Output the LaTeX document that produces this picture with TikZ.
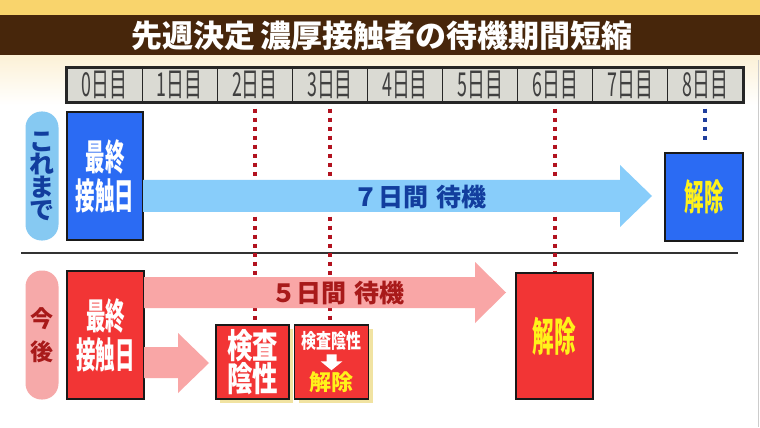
\documentclass[tikz,border=0pt]{standalone}
\usepackage{fontspec}
\setmainfont{Noto Sans CJK JP}
\newfontfamily\narrowjp{Noto Sans CJK JP}[FakeStretch=0.54]
\newfontfamily\midjp{Noto Sans CJK JP}[FakeStretch=0.75]
\usepackage{tikz}
\usetikzlibrary{positioning,shadows}

\definecolor{topyellow}{HTML}{F9D46C}
\definecolor{titlebrown}{HTML}{47260B}
\definecolor{cream}{HTML}{FCF1D6}
\definecolor{cellgray}{HTML}{DADAD3}
\definecolor{oldblue}{HTML}{2B6BF3}
\definecolor{oldpillblue}{HTML}{86C9F2}
\definecolor{oldarrowblue}{HTML}{88CDFA}
\definecolor{oldtext}{HTML}{123E9E}
\definecolor{newred}{HTML}{F23535}
\definecolor{newpillred}{HTML}{F6A9A9}
\definecolor{newarrowred}{HTML}{F9A6A6}
\definecolor{newtext}{HTML}{A81A1A}
\definecolor{dotred}{HTML}{B2121F}
\definecolor{dotblue}{HTML}{1F3E9C}
\definecolor{freeyellow}{HTML}{FFF21A}
\definecolor{shadowyellow}{HTML}{F1E3A2}

\begin{document}
\begin{tikzpicture}[x=1pt, y=-1pt,
    daycell/.style={draw=black!85, line width=1.2pt, fill=cellgray, minimum width=75.1pt, minimum height=34pt, inner sep=0pt, text=black!75, font=\narrowjp\fontsize{33}{33}\selectfont},
    pill/.style={rounded corners=16pt, minimum width=33pt, minimum height=129pt, inner sep=0pt, align=center},
    daybox/.style={draw=black!90, line width=1.5pt, inner sep=0pt, align=center, font=\narrowjp\bfseries\fontsize{36}{39}\selectfont},
    yellowshadow/.style={drop shadow={fill=shadowyellow, opacity=1, shadow xshift=4pt, shadow yshift=-4pt}},
    dotline/.style={dotred, line width=4pt, dash pattern=on 4pt off 5pt, shorten <=6pt},
    arrowlabel/.style={font=\bfseries\fontsize{25}{25}\selectfont}
]
    % background and title
    \fill[white] (0,0) rectangle (760,427);
    \fill[topyellow] (0,0) rectangle (760,15);
    \shade[top color=cream, bottom color=white] (0,55) rectangle (760,105);
    \fill[titlebrown] (0,15) rectangle (760,55);
    \draw[black!20, line width=1pt] (758,60) -- (758,427);
    \node[text=white, font=\bfseries\fontsize{31}{31}\selectfont] (title) at (382,36) {先週決定\hspace{6pt}濃厚接触者の待機期間短縮};

    % day header
    \foreach \d in {0,...,8}
        \node[daycell] (d\d) at ({104.6+75.1*\d},85) {\d 日目};
    \draw[black!85, line width=2pt] (d0.north west) rectangle (d8.south east);

    % rows
    \node[pill, fill=oldpillblue, text=oldtext, font=\bfseries\fontsize{25}{23}\selectfont] (oldpill) at (42,176) {こ\\れ\\ま\\で};
    \node[daybox, fill=oldblue, text=white, minimum width=76pt, minimum height=128pt] (oldstart) at (105,176) {最終\\接触日};
    \node[daybox, fill=oldblue, text=freeyellow, minimum width=78pt, minimum height=88pt] (oldfree) at (704,197) {解除};

    \draw[black!80, line width=2pt] (21,253) -- (738,253);

    \node[pill, fill=newpillred, text=newtext, font=\bfseries\fontsize{23}{33}\selectfont] (newpill) at (42,335) {今\\後};
    \node[daybox, fill=newred, text=white, minimum width=77pt, minimum height=128pt] (newstart) at (105.5,335) {最終\\接触日};
    \node[daybox, fill=newred, text=freeyellow, minimum width=77pt, minimum height=126pt, font=\narrowjp\bfseries\fontsize{40}{40}\selectfont] (newfree) at (554.5,336) {解除};
    \node[daybox, yellowshadow, fill=newred, text=white, minimum width=73pt, minimum height=74pt, font=\midjp\bfseries\fontsize{34}{33}\selectfont] (test) at (252.5,362) {検査\\陰性};
    \node[daybox, yellowshadow, fill=newred, minimum width=74pt, minimum height=74pt, right=4pt of test] (testfree) {};
    \node[text=white, font=\midjp\bfseries\fontsize{20}{20}\selectfont] (testneg) at ([yshift=-17pt]testfree.north) {検査陰性};
    \node[text=freeyellow, font=\bfseries\fontsize{22}{22}\selectfont] (testok) at ([yshift=18pt]testfree.south) {解除};
    \fill[white] ([xshift=-5pt,yshift=-30pt]testfree.north) -- ++(10,0) -- ++(0,7) -- ++(6,0) -- ++(-11,9) -- ++(-11,-9) -- ++(6,0) -- cycle;

    % day markers
    \draw[dotline] (d2.south) -- (d2.south |- test.north);
    \draw[dotline] (d3.south) -- (d3.south |- testfree.north);
    \draw[dotline] (d6.south) -- (d6.south |- newfree.north);
    \draw[dotline, dotblue, shorten >=8pt] (d8.south) -- (d8.south |- oldfree.north);

    % waiting arrows
    \fill[oldarrowblue] (143,180) -- (620,180) -- (620,165) -- (652,196) -- (620,227) -- (620,212) -- (143,212) -- cycle;
    \node[arrowlabel, text=oldtext] (oldwait) at (420,197) {７日間\hspace{8pt}待機};
    \fill[newarrowred] (144,277) -- (475,277) -- (475,262) -- (506,292.5) -- (475,323) -- (475,308) -- (144,308) -- cycle;
    \node[arrowlabel, text=newtext] (newwait) at (338,293) {５日間\hspace{8pt}待機};
    \fill[newarrowred] (144,347) -- (178,347) -- (178,333) -- (209,363) -- (178,393) -- (178,378) -- (144,378) -- cycle;
\end{tikzpicture}
\end{document}
